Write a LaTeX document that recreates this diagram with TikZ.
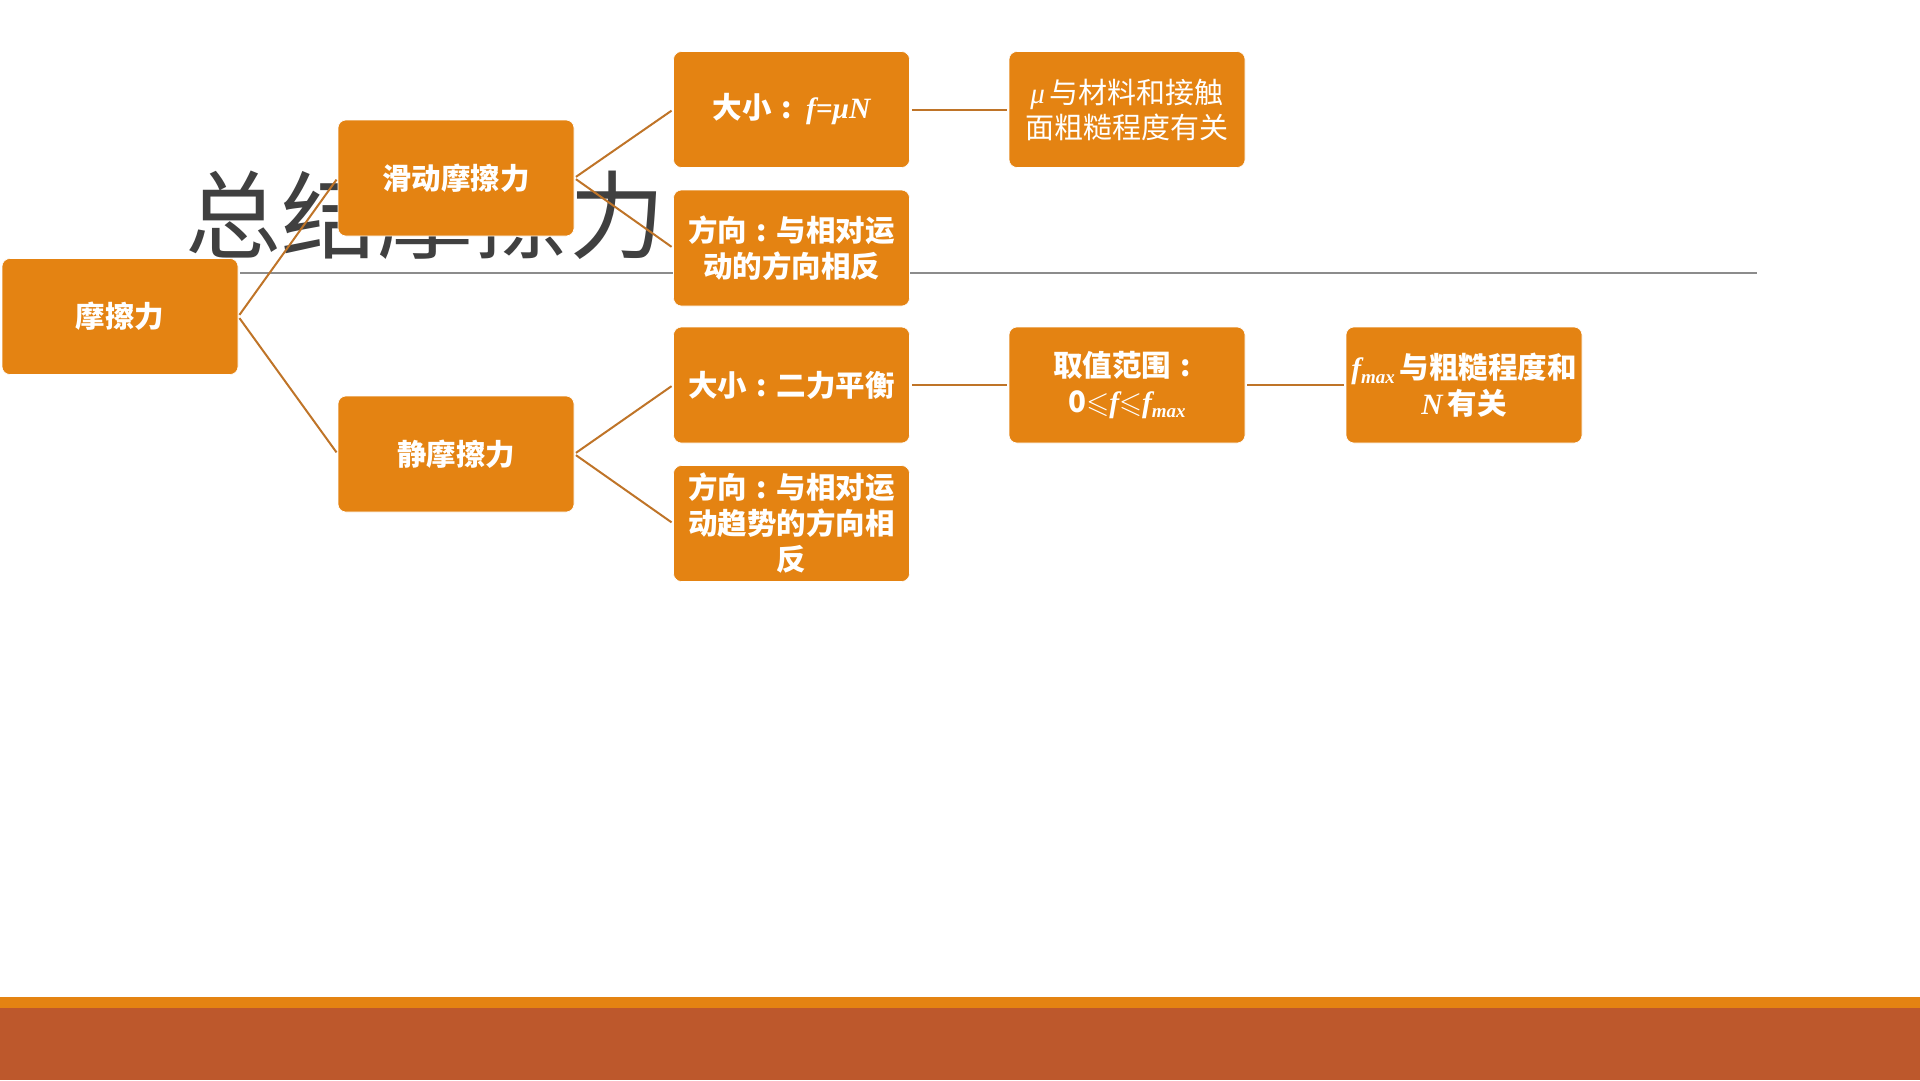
\documentclass[tikz,border=0pt]{standalone}
\usepackage{fontspec}
\usepackage{amssymb}
\setmainfont{Noto Sans CJK SC}
\newfontfamily\cjk{Noto Sans CJK SC}
\newfontfamily\tnr{Liberation Serif}
\definecolor{boxor}{HTML}{E48312}
\definecolor{rust}{HTML}{BD582C}
\definecolor{conn}{HTML}{BF7428}
\definecolor{titlegray}{HTML}{404040}
\definecolor{rulegray}{HTML}{8C8C8C}
\newcommand{\mi}[1]{{\tnr\itshape #1}}
\newcommand{\cc}{\makebox[1em][c]{:}}
\newcommand{\fmax}{{\tnr\itshape f\raisebox{-0.35ex}{\fontsize{19}{19}\selectfont max}}}
\begin{document}
\begin{tikzpicture}[x=1pt,y=-1pt,
  obox/.style={fill=boxor, draw=white, line width=0.6pt, rounded corners=8pt,
    minimum width=236pt, minimum height=116pt, inner sep=0pt,
    text=white, align=center, font=\cjk\bfseries\fontsize{29.5}{36}\selectfont},
  lbox/.style={obox, font=\cjk\fontsize{29}{35}\selectfont},
  link/.style={draw=conn, line width=2pt, shorten <=2pt, shorten >=2pt}]
\useasboundingbox (0,0) rectangle (1920,1080);
% bottom bars
\fill[rust] (0,1008) rectangle (1920,1080);
\fill[boxor] (0,997) rectangle (1920,1008);
% title and rule
\node[anchor=base, inner sep=0pt, text=titlegray, font=\cjk\fontsize{96}{96}\selectfont] (title) at (425,251) {总结摩擦力};
\coordinate (ruleL) at (240,273);
\coordinate (ruleR) at (1757,273);
\draw[rulegray, line width=1.4pt] (ruleL) -- (ruleR);
% nodes
\node[obox] (root) at (120,316.5) {摩擦力};
\node[obox] (slide) at (456,178) {滑动摩擦力};
\node[obox] (stat) at (456,454) {静摩擦力};
\node[obox] (s1) at (791.5,109.5) {大小\cc\,\mi{f=μN}};
\node[obox] (s2) at (791.5,248) {方向\cc 与相对运\\动的方向相反};
\node[obox] (t1) at (791.5,385) {大小\cc 二力平衡};
\node[obox] (t2) at (791.5,523.5) {方向\cc 与相对运\\动趋势的方向相\\反};
\node[lbox] (s1a) at (1127,109.5) {\mi{μ}\,与材料和接触\\面粗糙程度有关};
\node[obox] (t1a) at (1127,385) {取值范围\cc\\0$\leqslant$\mi{f}$\leqslant$\fmax};
\node[obox] (t1b) at (1464,385) {\fmax\,与粗糙程度和\\\mi{N}\,有关};
% connectors
\draw[link] (root.east) -- (slide.west);
\draw[link] (root.east) -- (stat.west);
\draw[link] (slide.east) -- (s1.west);
\draw[link] (slide.east) -- (s2.west);
\draw[link] (stat.east) -- (t1.west);
\draw[link] (stat.east) -- (t2.west);
\draw[link] (s1.east) -- (s1a.west);
\draw[link] (t1.east) -- (t1a.west);
\draw[link] (t1a.east) -- (t1b.west);
\end{tikzpicture}
\end{document}
